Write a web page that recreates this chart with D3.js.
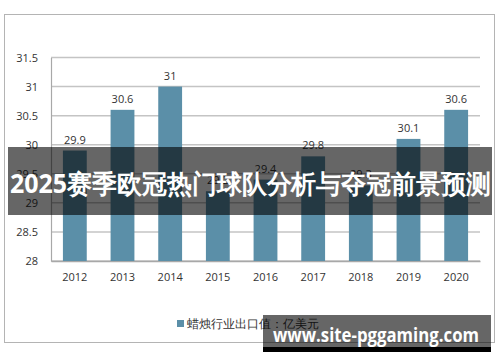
<!DOCTYPE html>
<html>
<head>
<meta charset="utf-8">
<script src="https://cdn.jsdelivr.net/npm/d3@7"></script>
<style>
  body { margin: 0; background: #fff; }
  text { font-family: "Open Sans", "Noto Sans", sans-serif; }
</style>
</head>
<body>
<svg id="chart" width="500" height="362"></svg>
<script>
const years = ["2012", "2013", "2014", "2015", "2016", "2017", "2018", "2019", "2020"];
const exportValues = [29.9, 30.6, 31, 29.2, 29.4, 29.8, 29.3, 30.1, 30.6];
const yTicks = [28, 28.5, 29, 29.5, 30, 30.5, 31, 31.5];
const legendLabel = "蜡烛行业出口值：亿美元";
const bannerTitle = "2025赛季欧冠热门球队分析与夺冠前景预测";
const watermark = "www.site-pggaming.com";

const svg = d3.select("#chart");
const barColor = "#5b8fa8";
const margin = { left: 51, right: 20, top: 57.5, bottom: 101 };
const width = +svg.attr("width");
const height = +svg.attr("height");

// outer chart frame
svg.append("rect")
  .attr("x", 4.5).attr("y", 14.5)
  .attr("width", 490).attr("height", 328)
  .attr("fill", "none").attr("stroke", "#b4b4b4");

const xScale = d3.scaleBand()
  .domain(years)
  .range([margin.left, width - margin.right])
  .paddingInner(0.5)
  .paddingOuter(0.25);

const yScale = d3.scaleLinear()
  .domain([28, 31.5])
  .range([height - margin.bottom, margin.top]);

// gridlines
svg.append("g")
  .selectAll("line")
  .data(yTicks)
  .join("line")
    .attr("x1", margin.left).attr("x2", width - margin.right)
    .attr("y1", d => yScale(d)).attr("y2", d => yScale(d))
    .attr("stroke", "#c4c4c4").attr("stroke-width", 1.5);

// y axis
const yAxisG = svg.append("g")
  .attr("transform", `translate(${margin.left},0)`)
  .call(d3.axisLeft(yScale).tickValues(yTicks).tickSize(0).tickPadding(13).tickFormat(d3.format("")));
yAxisG.select(".domain").attr("stroke", "#a8a8a8").attr("stroke-width", 1.2);
yAxisG.selectAll("text").attr("font-size", 11).attr("fill", "#333");

// x axis
const xAxisG = svg.append("g")
  .attr("transform", `translate(0,${yScale(28)})`)
  .call(d3.axisBottom(xScale).tickSize(0).tickPadding(12));
xAxisG.select(".domain").attr("stroke", "#a8a8a8").attr("stroke-width", 1.5);
xAxisG.selectAll("text").attr("font-size", 11).attr("fill", "#333");

// bars
svg.append("g")
  .selectAll("rect")
  .data(years)
  .join("rect")
    .attr("x", d => xScale(d))
    .attr("width", xScale.bandwidth())
    .attr("y", (d, i) => yScale(exportValues[i]))
    .attr("height", (d, i) => yScale(28) - yScale(exportValues[i]))
    .attr("fill", barColor);

// value labels
svg.append("g")
  .selectAll("text")
  .data(years)
  .join("text")
    .attr("x", d => xScale(d) + xScale.bandwidth() / 2)
    .attr("y", (d, i) => yScale(exportValues[i]) - 7)
    .attr("text-anchor", "middle")
    .attr("font-size", 11)
    .attr("fill", "#333")
    .text((d, i) => exportValues[i]);

// legend
const legendG = svg.append("g").attr("transform", "translate(177,320)");
legendG.append("rect").attr("width", 7).attr("height", 7).attr("fill", barColor);
legendG.append("text")
  .attr("x", 10).attr("y", 7.5)
  .attr("font-size", 12).attr("fill", "#333")
  .attr("font-family", "'Noto Sans CJK SC', sans-serif")
  .text(legendLabel);

// title banner overlay
svg.append("rect")
  .attr("x", 8).attr("y", 147)
  .attr("width", 484).attr("height", 68)
  .attr("fill", "rgba(0,0,0,0.6)");
svg.append("text")
  .attr("x", 10).attr("y", 193)
  .attr("font-size", 26).attr("font-weight", "bold").attr("fill", "#fff")
  .attr("font-family", "'Noto Sans CJK SC', 'Noto Sans', sans-serif")
  .attr("textLength", 481).attr("lengthAdjust", "spacingAndGlyphs")
  .text(bannerTitle);

// watermark overlay
svg.append("rect")
  .attr("x", 263).attr("y", 315)
  .attr("width", 228).attr("height", 33)
  .attr("fill", "rgba(0,0,0,0.6)");
svg.append("rect")
  .attr("x", 263).attr("y", 347)
  .attr("width", 228).attr("height", 5)
  .attr("fill", "#000");
svg.append("text")
  .attr("x", 273).attr("y", 342)
  .attr("font-size", 19).attr("font-weight", "bold").attr("fill", "#fff")
  .attr("font-family", "'Noto Sans', sans-serif")
  .attr("textLength", 206).attr("lengthAdjust", "spacingAndGlyphs")
  .text(watermark);
</script>
</body>
</html>
